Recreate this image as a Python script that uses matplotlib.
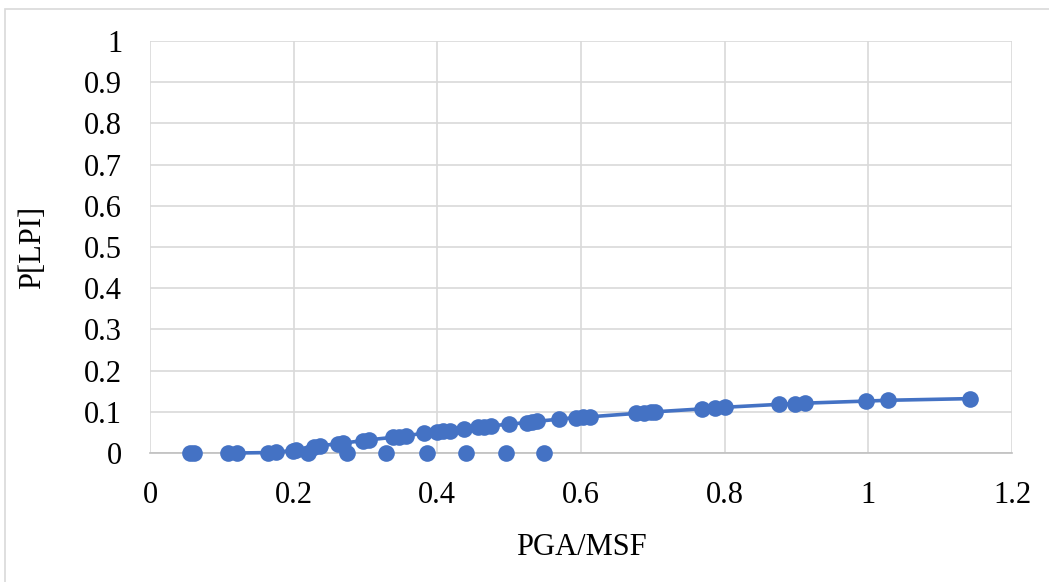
import matplotlib
matplotlib.use("Agg")
import matplotlib.pyplot as plt
from matplotlib.patches import Rectangle

# P[LPI] against PGA/MSF
pga_msf = [0.121, 0.164, 0.176, 0.199, 0.203, 0.228, 0.236, 0.262, 0.268, 0.297,
           0.305, 0.338, 0.347, 0.356, 0.382, 0.400, 0.408, 0.418, 0.437, 0.456,
           0.465, 0.475, 0.500, 0.525, 0.532, 0.539, 0.569, 0.593, 0.603, 0.613,
           0.676, 0.688, 0.697, 0.703, 0.768, 0.787, 0.800, 0.875, 0.898, 0.912,
           0.997, 1.028, 1.142]
p_lpi = [0.000, 0.001, 0.002, 0.006, 0.008, 0.015, 0.018, 0.022, 0.024, 0.030,
         0.032, 0.038, 0.040, 0.042, 0.048, 0.052, 0.053, 0.054, 0.058, 0.062,
         0.064, 0.066, 0.070, 0.074, 0.075, 0.077, 0.082, 0.086, 0.087, 0.088,
         0.096, 0.098, 0.099, 0.100, 0.107, 0.110, 0.111, 0.118, 0.120, 0.121,
         0.126, 0.128, 0.132]

# cases with zero probability
pga_msf_zero = [0.055, 0.061, 0.108, 0.220, 0.274, 0.329, 0.385, 0.440, 0.495, 0.549]
p_lpi_zero = [0.0] * len(pga_msf_zero)

x_ticks = [0, 0.2, 0.4, 0.6, 0.8, 1, 1.2]
y_ticks = [0, 0.1, 0.2, 0.3, 0.4, 0.5, 0.6, 0.7, 0.8, 0.9, 1]

blue = "#4472C4"
grid = "#D9D9D9"

plt.rcParams["font.family"] = ["Liberation Serif", "DejaVu Serif"]

fig = plt.figure(figsize=(10.49, 5.82), dpi=100)
fig.patches.append(Rectangle((5 / 1049, -0.05), 1.2, 1 - 9 / 582 + 0.05,
                             transform=fig.transFigure, fill=False,
                             edgecolor=grid, linewidth=1.2))

ax = fig.add_axes([150 / 1049, 1 - 453 / 582, (1012 - 150) / 1049, (453 - 41) / 582])

ax.plot(pga_msf, p_lpi, color=blue, linewidth=2.6, marker="o", markersize=12,
        markeredgewidth=0, clip_on=False, zorder=3)
ax.plot(pga_msf_zero, p_lpi_zero, linestyle="none", color=blue, marker="o",
        markersize=12, markeredgewidth=0, clip_on=False, zorder=3)

ax.set_xlim(0, 1.2)
ax.set_ylim(0, 1)
ax.set_xticks(x_ticks)
ax.set_xticklabels([f"{v:g}" for v in x_ticks])
ax.set_yticks(y_ticks)
ax.set_yticklabels([f"{v:g}" for v in y_ticks])

ax.grid(True, color=grid, linewidth=1.2, zorder=0)
ax.set_axisbelow(True)
for side in ("top", "right", "left"):
    ax.spines[side].set_visible(False)
ax.spines["bottom"].set_color("#BFBFBF")
ax.spines["bottom"].set_linewidth(1.2)

ax.tick_params(axis="both", length=0, labelsize=22, colors="black")
ax.tick_params(axis="y", pad=20)
ax.tick_params(axis="x", pad=20)

ax.set_xlabel("PGA/MSF", fontsize=22, labelpad=17)
ax.set_ylabel("P[LPI]", fontsize=22, labelpad=27)

fig.savefig("out.png", dpi=100)
